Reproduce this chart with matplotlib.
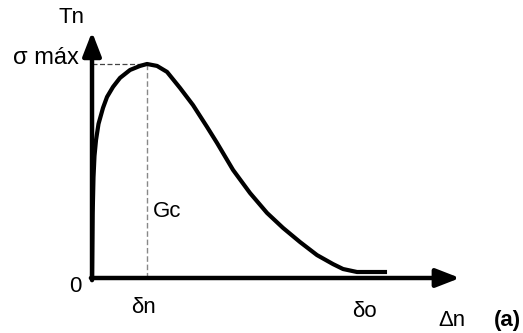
import matplotlib
matplotlib.use("Agg")
import matplotlib.pyplot as plt

# Traction-separation curve (normalised: opening / delta_n, traction / sigma_max)
opening = [0.0, 0.012, 0.027, 0.045, 0.073, 0.118, 0.2, 0.273, 0.382, 0.509, 0.691, 0.873, 1.0,
           1.182, 1.364, 1.6, 1.836, 2.091, 2.273, 2.564, 2.873, 3.182, 3.473,
           3.782, 4.091, 4.382, 4.564, 4.818, 5.364]
traction = [0.0, 0.3, 0.47, 0.57, 0.645, 0.72, 0.795, 0.846, 0.893, 0.935, 0.972, 0.991, 1.0,
            0.991, 0.963, 0.888, 0.808, 0.706, 0.631, 0.505, 0.397, 0.304, 0.234,
            0.168, 0.107, 0.065, 0.042, 0.028, 0.028]

delta_n = 1.0       # opening at peak traction
delta_o = 4.96      # final opening
sigma_max = 1.0

fig = plt.figure(figsize=(5.23, 3.33), dpi=100)
ax = fig.add_axes([0, 0, 1, 1])
ax.set_xlim(-1.673, 7.836)
ax.set_ylim(-0.257, 1.299)
ax.axis("off")

font = "Liberation Sans"

# axes with arrow heads
arrow = dict(arrowstyle="-|>,head_length=0.9,head_width=0.35", lw=3.2,
             color="black", mutation_scale=16, shrinkA=0, shrinkB=0)
ax.annotate("", xy=(6.69, 0), xytext=(-0.02, 0), arrowprops=arrow)
ax.annotate("", xy=(0, 1.15), xytext=(0, -0.01), arrowprops=arrow)

# guide lines to the peak
ax.plot([0, delta_n], [sigma_max, sigma_max], color="#444444", lw=0.9,
        ls=(0, (4, 2)))
ax.plot([delta_n, delta_n], [0, sigma_max], color="#888888", lw=1.0,
        ls=(0, (4, 2)))

# the curve
ax.plot(opening, traction, color="black", lw=3.0, solid_capstyle="butt",
        solid_joinstyle="round")

fs = 16
ax.text(-0.382, 1.215, "Tn", fontsize=fs, family=font, ha="center", va="center")
ax.text(-0.836, 1.03, "σ máx", fontsize=fs + 1, family=font, ha="center", va="center")
ax.text(-0.31, -0.042, "0", fontsize=fs, family=font, ha="center", va="center")
ax.text(0.927, -0.14, "δn", fontsize=fs, family=font, ha="center", va="center")
ax.text(delta_o, -0.155, "δo", fontsize=fs, family=font, ha="center", va="center")
ax.text(6.545, -0.2, "Δn", fontsize=fs, family=font, ha="center", va="center")
ax.text(7.56, -0.2, "(a)", fontsize=fs, family=font, fontweight="bold",
        ha="center", va="center")
ax.text(1.364, 0.313, "Gc", fontsize=fs, family=font, ha="center", va="center")

fig.savefig("out.png", dpi=100, facecolor="white")
